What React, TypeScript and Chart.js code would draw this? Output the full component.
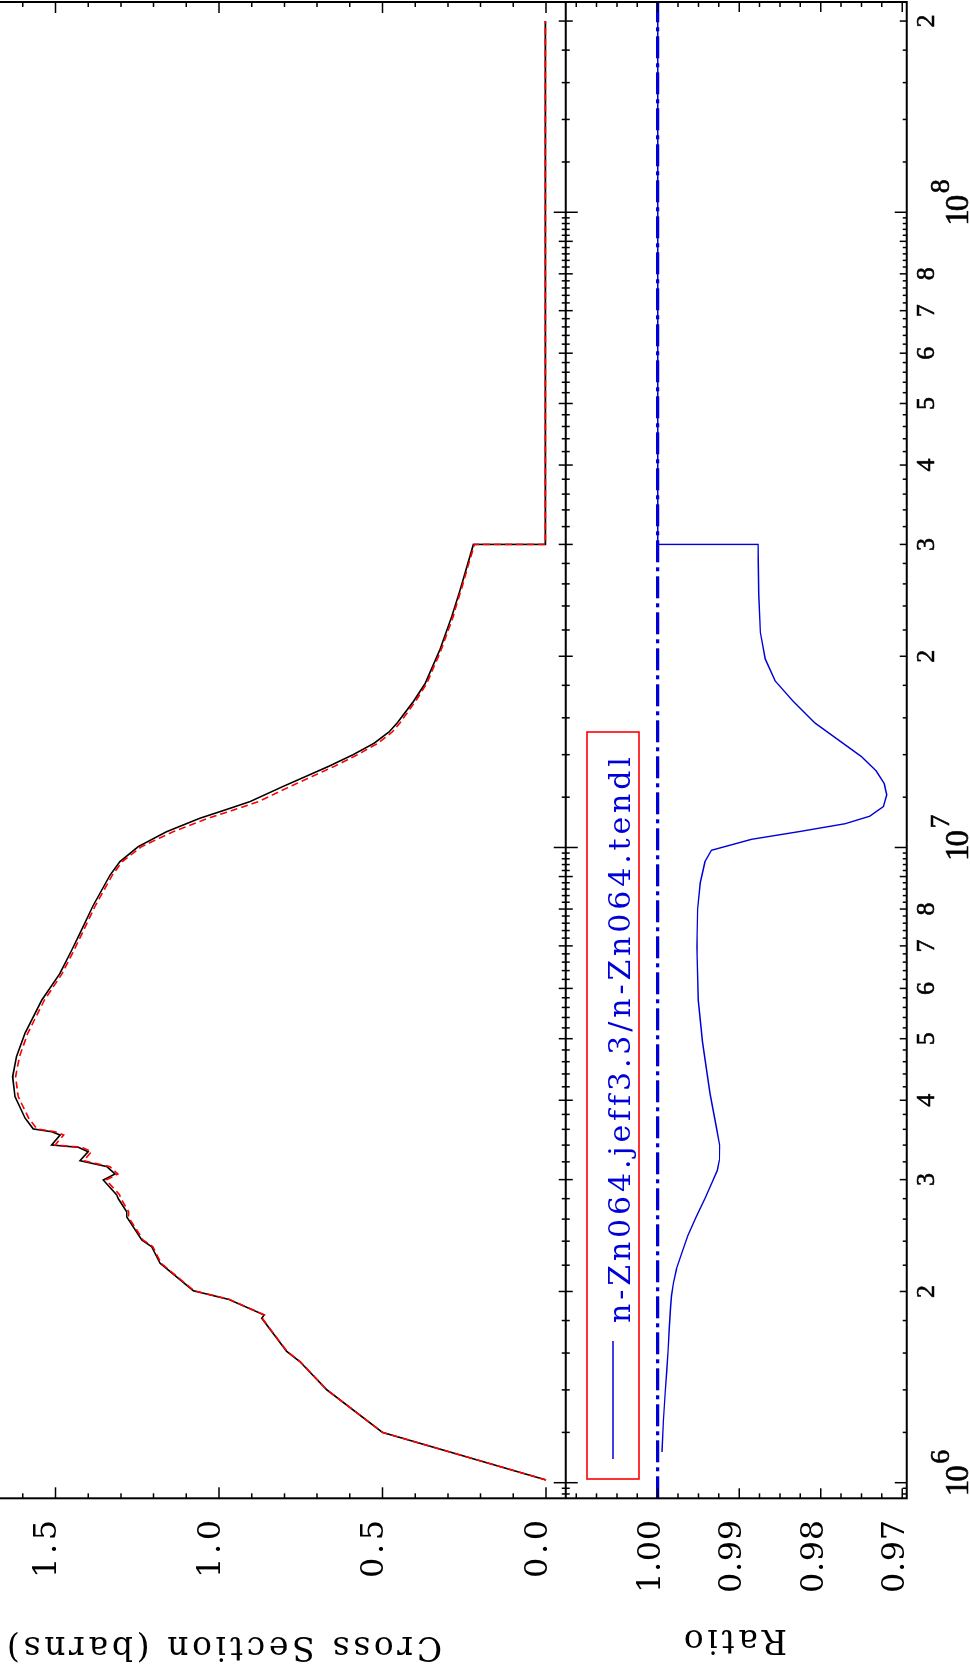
import React, { useEffect, useRef } from 'react';
import { Chart, registerables } from 'chart.js';

Chart.register(...registerables);

// ---------- data (energies in eV) ----------
const tendlEnergy = [
  1.01e6, 1.2e6, 1.4e6, 1.55e6, 1.61e6, 1.815e6, 1.837e6, 1.944e6, 2.005e6, 2.215e6,
  2.352e6, 2.41e6, 2.62e6, 2.67e6, 2.8e6, 2.84e6, 2.996e6, 3.062e6, 3.145e6, 3.213e6,
  3.319e6, 3.373e6, 3.401e6, 3.527e6, 3.569e6, 3.605e6, 3.748e6, 4.053e6, 4.356e6, 4.687e6,
  5.1e6, 5.75e6, 6.34e6, 6.9e6, 7.33e6, 8.1e6, 9.05e6, 9.5e6, 10.03e6, 10.59e6,
  11.12e6, 11.48e6, 11.81e6, 12.45e6, 13.43e6, 14.0e6, 14.6e6, 15.2e6, 15.7e6, 16.96e6,
  18.1e6, 20.5e6, 23.1e6, 25.4e6, 30.0e6, 30.0e6, 200e6,
];
const tendlXS = [
  0.0, 0.5, 0.67, 0.752, 0.793, 0.869, 0.862, 0.971, 1.078, 1.18,
  1.206, 1.236, 1.282, 1.282, 1.308, 1.313, 1.354, 1.318, 1.343, 1.425,
  1.4, 1.43, 1.512, 1.486, 1.512, 1.568, 1.593, 1.624, 1.631, 1.619,
  1.593, 1.542, 1.486, 1.45, 1.425, 1.385, 1.333, 1.303, 1.247, 1.16,
  1.058, 0.976, 0.905, 0.808, 0.663, 0.59, 0.525, 0.48, 0.455, 0.406,
  0.37, 0.324, 0.288, 0.263, 0.222, 0.002, 0.002,
];
const jeffEnergy = tendlEnergy;
const jeffXS = [
  0.0, 0.5, 0.67, 0.751, 0.792, 0.868, 0.861, 0.969, 1.076, 1.177,
  1.202, 1.232, 1.277, 1.276, 1.3, 1.304, 1.345, 1.309, 1.334, 1.414,
  1.39, 1.419, 1.501, 1.475, 1.501, 1.557, 1.582, 1.614, 1.622, 1.61,
  1.585, 1.534, 1.479, 1.443, 1.418, 1.378, 1.326, 1.296, 1.237, 1.14,
  1.033, 0.95, 0.879, 0.786, 0.646, 0.576, 0.513, 0.47, 0.447, 0.4,
  0.365, 0.32, 0.284, 0.26, 0.219, 0.002, 0.002,
];
const ratioEnergy = [
  1.118e6, 1.25e6, 1.382e6, 1.5e6, 1.617e6, 1.75e6, 1.883e6, 1.97e6, 2.06e6, 2.17e6,
  2.283e6, 2.45e6, 2.62e6, 2.8e6, 2.996e6, 3.1e6, 3.22e6, 3.4e6, 3.6e6, 4.1e6,
  4.94e6, 5.75e6, 6.98e6, 8.0e6, 8.8e6, 9.5e6, 9.9e6, 10.3e6, 10.6e6, 10.9e6,
  11.2e6, 11.6e6, 12.1e6, 12.6e6, 13.2e6, 13.9e6, 14.6e6, 15.7e6, 17.0e6, 18.3e6,
  19.8e6, 21.8e6, 25.0e6, 30.0e6, 30.0e6, 200e6,
];
const ratioValues = [
  0.99948, 0.9993, 0.99909, 0.9989, 0.99872, 0.99858, 0.99843, 0.9983, 0.99808, 0.9977,
  0.99713, 0.9963, 0.9953, 0.9942, 0.9932, 0.9927, 0.99244, 0.9924, 0.99275, 0.99358,
  0.9945, 0.99502, 0.9952, 0.9951, 0.99478, 0.9942, 0.9934, 0.9885, 0.9825, 0.977,
  0.974, 0.9723, 0.9719, 0.9722, 0.9732, 0.975, 0.9773, 0.9807, 0.9834, 0.9856,
  0.9868, 0.9874, 0.9876, 0.9877, 1.0, 1.0,
];
const refEnergy = [0.945e6, 2.143e8];
const refRatio = [1.0, 1.0];

// ---------- axes ----------
const energyMin = 0.945e6;
const energyMax = 2.143e8;
const xsAxisMin = -1.1031;
const xsAxisMax = 1.6697;
const ratioAxisMin = 0.96945;
const ratioAxisMax = 1.0807;
const ratioPanelTop = 1.01129;

const xsMajorTicks = [0, 0.5, 1.0, 1.5];
const xsTickLabels = ['0.0', '0.5', '1.0', '1.5'];
const xsMinorTicks = [0.1, 0.2, 0.3, 0.4, 0.6, 0.7, 0.8, 0.9, 1.1, 1.2, 1.3, 1.4, 1.6];
const ratioMajorTicks = [0.97, 0.98, 0.99, 1.0];
const ratioTickLabels = ['0.97', '0.98', '0.99', '1.00'];
const ratioMinorTicks = [0.9725, 0.975, 0.9775, 0.9825, 0.985, 0.9875, 0.9925, 0.995, 0.9975, 1.0025, 1.005, 1.0075, 1.01];
const energyDecades = [1e5, 1e6, 1e7, 1e8];
const decadeExponents = ['5', '6', '7', '8'];
const energyIntMultipliers = [2, 3, 4, 5, 6, 7, 8, 9];
const energyLabelMultipliers = [2, 3, 4, 5, 6, 7, 8];
const energyFineMultipliers = [
  1.2, 1.4, 1.6, 1.8, 2.2, 2.4, 2.6, 2.8, 3.2, 3.4, 3.6, 3.8, 4.2, 4.4, 4.6, 4.8,
  5.2, 5.4, 5.6, 5.8, 6.2, 6.4, 6.6, 6.8, 7.2, 7.4, 7.6, 7.8, 8.2, 8.4, 8.6, 8.8,
  9.2, 9.4, 9.6, 9.8,
];

const legendText = 'n-Zn064.jeff3.3/n-Zn064.tendl';
const yTitleTop = 'Cross Section (barns)';
const yTitleBottom = 'Ratio';

const W = 1667;
const H = 970;
const SERIF = '"Liberation Serif", "DejaVu Serif", serif';
const WIDE = '"DejaVu Serif", "Liberation Serif", serif';
const BLUE = '#0000d8';

function spaced(
  ctx: CanvasRenderingContext2D,
  text: string,
  x: number,
  y: number,
  width: number,
  align: 'left' | 'center' | 'right',
  stroke = 0,
) {
  (ctx as any).letterSpacing = '0px';
  const w0 = ctx.measureText(text).width;
  const n = text.length;
  const sp = n > 1 ? (width - w0) / (n - 1) : 0;
  (ctx as any).letterSpacing = sp + 'px';
  const start = align === 'left' ? x : align === 'right' ? x - width : x - width / 2;
  ctx.textAlign = 'left';
  ctx.fillText(text, start, y);
  if (stroke > 0) {
    ctx.strokeStyle = ctx.fillStyle as string;
    ctx.lineWidth = stroke;
    ctx.strokeText(text, start, y);
  }
  (ctx as any).letterSpacing = '0px';
}

const framePlugin = {
  id: 'framePlugin',
  afterDraw(chart: any) {
    const ctx: CanvasRenderingContext2D = chart.ctx;
    const xs = chart.scales.x;
    const ys = chart.scales.yXS;
    const yr = chart.scales.yRatio;
    const { left: L, right: R, top: T, bottom: B } = chart.chartArea;
    const D = yr.getPixelForValue(ratioPanelTop);
    ctx.save();
    ctx.strokeStyle = '#000';
    ctx.lineCap = 'butt';
    ctx.lineWidth = 2;
    ctx.beginPath();
    ctx.moveTo(L, T - 2);
    ctx.lineTo(L, B);
    ctx.lineTo(R, B);
    ctx.lineTo(R, T - 2);
    ctx.moveTo(L, D);
    ctx.lineTo(R, D);
    ctx.stroke();

    ctx.lineWidth = 1.5;
    ctx.beginPath();
    const xTicks: [number, number][] = [];
    energyDecades.forEach((d) => {
      xTicks.push([d, 12]);
      energyIntMultipliers.forEach((m) => xTicks.push([m * d, 7]));
      energyFineMultipliers.forEach((m) => xTicks.push([m * d, 4]));
    });
    xTicks.forEach(([v, len]) => {
      if (v < energyMin || v > energyMax) return;
      const px = xs.getPixelForValue(v);
      ctx.moveTo(px, B);
      ctx.lineTo(px, B - len);
      ctx.moveTo(px, D - len);
      ctx.lineTo(px, D + len);
    });
    const yTicks: [any, number, number][] = [];
    xsMajorTicks.forEach((v) => yTicks.push([ys, v, 11]));
    xsMinorTicks.forEach((v) => yTicks.push([ys, v, 5]));
    ratioMajorTicks.forEach((v) => yTicks.push([yr, v, 10]));
    ratioMinorTicks.forEach((v) => yTicks.push([yr, v, 5]));
    yTicks.forEach(([sc, v, len]) => {
      const py = sc.getPixelForValue(v);
      if (sc === ys && (py > D || py < T)) return;
      if (sc === yr && (py < D || py > B)) return;
      ctx.moveTo(L, py);
      ctx.lineTo(L + len, py);
      ctx.moveTo(R, py);
      ctx.lineTo(R - len, py);
    });
    ctx.stroke();

    // y tick labels
    ctx.fillStyle = '#000';
    ctx.textBaseline = 'alphabetic';
    ctx.font = '32px ' + WIDE;
    xsMajorTicks.forEach((v, i) => {
      const py = ys.getPixelForValue(v);
      spaced(ctx, xsTickLabels[i], 147, py + 1, 58, 'right');
    });
    ratioMajorTicks.forEach((v, i) => {
      const py = yr.getPixelForValue(v);
      spaced(ctx, ratioTickLabels[i], 147, py + 2, 73, 'right');
    });

    // x tick labels
    energyDecades.forEach((d, di) => {
      energyLabelMultipliers.forEach((m) => {
        const v = m * d;
        if (v < energyMin || v > energyMax) return;
        const px = xs.getPixelForValue(v);
        ctx.font = '26px ' + SERIF;
        spaced(ctx, String(m), px, 934, 13, 'center', 0.6);
      });
      if (d >= energyMin && d <= energyMax) {
        const px = xs.getPixelForValue(d);
        ctx.font = '33px ' + SERIF;
        spaced(ctx, '10', px + 2, 968, 31, 'center', 0.6);
        ctx.font = '28px ' + SERIF;
        spaced(ctx, decadeExponents[di], px + 19, 949, 14, 'left', 0.6);
      }
    });

    // axis titles (rotated)
    ctx.font = '33px ' + WIDE;
    ctx.save();
    ctx.translate(30, 442);
    ctx.rotate(-Math.PI / 2);
    spaced(ctx, yTitleTop, 0, 0, 435, 'left');
    ctx.restore();
    ctx.save();
    ctx.translate(37, 787);
    ctx.rotate(-Math.PI / 2);
    spaced(ctx, yTitleBottom, 0, 0, 103, 'left');
    ctx.restore();

    // legend
    ctx.strokeStyle = '#ff0000';
    ctx.lineWidth = 1.6;
    ctx.strokeRect(188, 587, 935 - 188, 639 - 587);
    ctx.strokeStyle = BLUE;
    ctx.lineWidth = 1.4;
    ctx.beginPath();
    ctx.moveTo(208, 613);
    ctx.lineTo(326, 613);
    ctx.stroke();
    ctx.fillStyle = BLUE;
    ctx.font = '30px ' + WIDE;
    spaced(ctx, legendText, 344, 630, 565, 'left');
    ctx.restore();
  },
};

export default function App() {
  const ref = useRef<HTMLCanvasElement | null>(null);
  useEffect(() => {
    if (!ref.current) return;
    const pts = (xv: number[], yv: number[]) => xv.map((x, i) => ({ x, y: yv[i] }));
    const chart = new Chart(ref.current, {
      type: 'line',
      data: {
        datasets: [
          {
            label: 'jeff3.3',
            data: pts(jeffEnergy, jeffXS),
            yAxisID: 'yXS',
            borderColor: '#ff0000',
            borderWidth: 1.6,
            borderDash: [7, 4],
            pointRadius: 0,
            fill: false,
          },
          {
            label: 'tendl',
            data: pts(tendlEnergy, tendlXS),
            yAxisID: 'yXS',
            borderColor: '#000000',
            borderWidth: 1.6,
            pointRadius: 0,
            fill: false,
          },
          {
            label: legendText,
            data: pts(ratioEnergy, ratioValues),
            yAxisID: 'yRatio',
            borderColor: BLUE,
            borderWidth: 1.4,
            pointRadius: 0,
            fill: false,
          },
          {
            label: 'unity',
            data: pts(refEnergy, refRatio),
            yAxisID: 'yRatio',
            borderColor: BLUE,
            borderWidth: 3.2,
            borderDash: [22, 5, 4, 5],
            pointRadius: 0,
            fill: false,
          },
        ],
      },
      options: {
        responsive: false,
        animation: false,
        events: [],
        layout: { padding: { left: 168.7, right: 2, top: 0, bottom: 63.3 } },
        plugins: { legend: { display: false }, tooltip: { enabled: false } },
        elements: { line: { tension: 0 }, point: { radius: 0 } },
        scales: {
          x: { type: 'logarithmic', min: energyMin, max: energyMax, display: false },
          yXS: { type: 'linear', min: xsAxisMin, max: xsAxisMax, display: false },
          yRatio: { type: 'linear', min: ratioAxisMin, max: ratioAxisMax, display: false },
        },
      } as any,
      plugins: [framePlugin],
    });
    return () => chart.destroy();
  }, []);

  return (
    <div style={{ position: 'fixed', left: 0, top: 0, width: 970, height: 1667, overflow: 'hidden', background: '#fff' }}>
      <div
        style={{
          position: 'absolute',
          left: 0,
          top: 0,
          width: W,
          height: H,
          transformOrigin: '0 0',
          transform: `translate(0px, ${W}px) rotate(-90deg)`,
        }}
      >
        <canvas ref={ref} width={W} height={H} style={{ display: 'block', width: W, height: H }} />
      </div>
    </div>
  );
}
